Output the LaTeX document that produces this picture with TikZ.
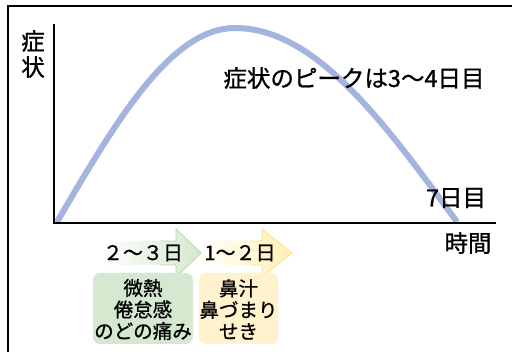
\documentclass[tikz,border=0pt]{standalone}
\usepackage{fontspec}
\setmainfont{Noto Sans CJK JP}[FakeBold=0.9]
\definecolor{curveblue}{RGB}{164,180,222}
\definecolor{boxgreen}{RGB}{213,232,208}
\definecolor{edgegreen}{RGB}{182,216,168}
\definecolor{boxyellow}{RGB}{255,242,204}
\definecolor{headyellow}{RGB}{255,240,180}
\definecolor{edgeyellow}{RGB}{255,224,128}
\tikzset{
  axisline/.style={line width=2pt, black},
  bigtext/.style={font=\fontsize{23.5}{26}\selectfont, inner sep=0pt},
  daytext/.style={font=\fontsize{20}{22}\selectfont, inner sep=0pt},
  boxtext/.style={font=\fontsize{19.5}{21.5}\selectfont, inner sep=0pt, align=center},
  symbox/.style={rounded corners=7pt},
}
\begin{document}
\begin{tikzpicture}[x=1pt,y=-1pt]
\useasboundingbox (0,0) rectangle (512,352);
\fill[white] (0,0) rectangle (512,352);
% frame
\draw[line width=2pt] (8,352) -- (8,6) -- (512,6);
% curve
\draw[curveblue, line width=6pt, line join=round]
  plot[domain=0:90, samples=60] ({57+1.97778*\x},{222-194*sin(\x)})
  -- plot[domain=0:90, samples=60] ({235+2.46667*\x},{222-194*cos(\x)});
% axes
\coordinate (top) at (54,24);
\coordinate (origin) at (54,223);
\coordinate (xend) at (496,223);
\draw[axisline] (top) -- (origin) -- (xend);
% labels
\node[bigtext, align=center] (ylab) at (33,54) {症\\状};
\node[bigtext] (peak) at (354,78) {症状のピークは3〜4日目};
\node[bigtext] (day7) at (456,198) {7日目};
\node[bigtext] (xlab) at (468,243) {時間};
% yellow arrow
\shade[left color=white, right color=headyellow]
  (200,241) -- (262,241) -- (262,229) -- (292,253) -- (262,277) -- (262,265) -- (200,265) -- cycle;
\draw[edgeyellow, line width=0.8pt, line join=round]
  (250,241) -- (262,241) -- (262,229) -- (292,253) -- (262,277) -- (262,265) -- (250,265);
% green arrow
\shade[left color=white, right color=boxgreen]
  (100,241) -- (176,241) -- (176,229) -- (201,253) -- (176,277) -- (176,265) -- (100,265) -- cycle;
\draw[edgegreen, line width=0.8pt, line join=round]
  (160,241) -- (176,241) -- (176,229) -- (201,253) -- (176,277) -- (176,265) -- (160,265);
\node[daytext] (d1) at (143,253) {２〜３日};
\node[daytext] (d2) at (240,253) {1〜２日};
% boxes
\fill[boxgreen, symbox] (93,273) rectangle (193,344);
\fill[boxyellow, symbox] (199,273) rectangle (278,344);
\node[boxtext] (g) at (143,309.5) {微熱\\倦怠感\\のどの痛み};
\node[boxtext] (y) at (238.5,309.5) {鼻汁\\鼻づまり\\せき};
\end{tikzpicture}
\end{document}
